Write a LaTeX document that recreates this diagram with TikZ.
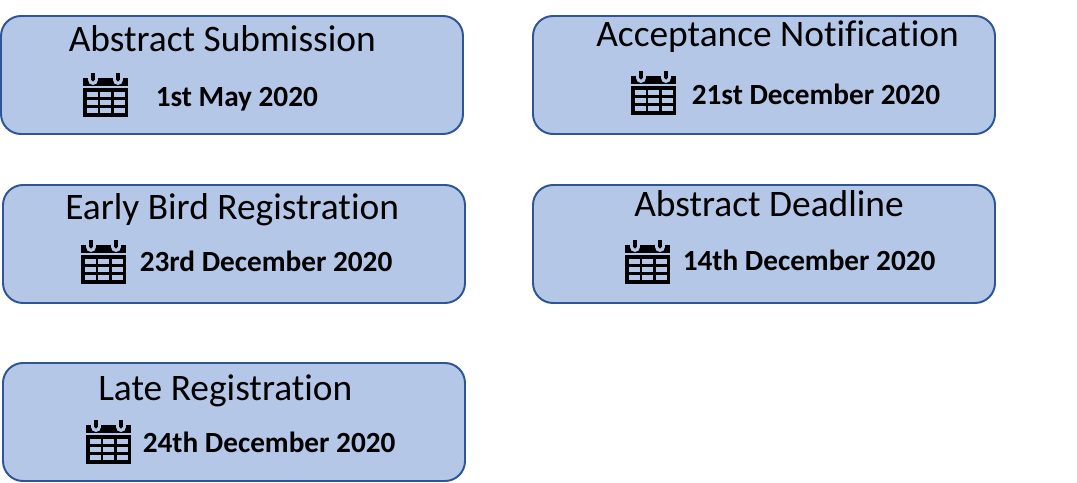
\documentclass[tikz,border=0pt]{standalone}
\usepackage{fontspec}
\setmainfont[Ligatures=CommonOff]{Carlito}
\definecolor{boxfill}{HTML}{B4C7E7}
\definecolor{boxline}{HTML}{2F5597}
\tikzset{
    datebox/.style={draw=boxline, fill=boxfill, line width=1.4pt, rounded corners=0.5cm},
    boxtitle/.style={anchor=base west, inner sep=0pt, font=\fontsize{26.6}{30}\selectfont},
    boxdate/.style={anchor=base west, inner sep=0pt, font=\fontsize{20.8}{24}\selectfont\bfseries},
    calicon/.pic={
        \fill[black] (0,5) rectangle (45,13);
        \fill[black] (0,15) rectangle (45,44);
        % rings on the top bar
        \foreach \cx in {10,35}{
            \fill[boxfill] (\cx-5,4) rectangle (\cx+5,7);
            \fill[boxfill] (\cx+5,7) arc (0:180:5) -- cycle;
            \fill[black] (\cx-1.7,0) rectangle (\cx+1.7,7);
            \fill[black] (\cx,7) circle (1.7);
        }
        \foreach \cx in {4,17,31}{
            \foreach \cy in {20,28,36}{
                \fill[boxfill] (\cx,\cy-1) rectangle (\cx+11,\cy+4);
            }
        }
    },
}
\begin{document}
\begin{tikzpicture}[x=0.025cm, y=-0.025cm]
\useasboundingbox (0,0) rectangle (1077,482);

\draw[datebox] (1,16) rectangle (463,134);
\draw[datebox] (533,16) rectangle (995,134);
\draw[datebox] (3,185) rectangle (465,303);
\draw[datebox] (533,185) rectangle (995,303);
\draw[datebox] (3,363) rectangle (465,481);

\node[boxtitle] (submission) at (68.5,51) {Abstract Submission};
\node[boxtitle] (acceptance) at (596,46) {Acceptance Notification};
\node[boxtitle] (earlybird) at (65,219) {Early Bird Registration};
\node[boxtitle] (deadline) at (634,216) {Abstract Deadline};
\node[boxtitle] (late) at (98,400) {Late Registration};

\node[boxdate] (submissiondate) at (155.5,106.7) {1st May 2020};
\node[boxdate] (acceptancedate) at (691.5,104.7) {21st December 2020};
\node[boxdate] (earlybirddate) at (139.5,271.7) {23rd December 2020};
\node[boxdate] (deadlinedate) at (682.5,270.7) {14th December 2020};
\node[boxdate] (latedate) at (142.5,452.7) {24th December 2020};

\pic at (83,73) {calicon};
\pic at (631,71) {calicon};
\pic at (81,240) {calicon};
\pic at (625,240) {calicon};
\pic at (86,420) {calicon};
\end{tikzpicture}
\end{document}
